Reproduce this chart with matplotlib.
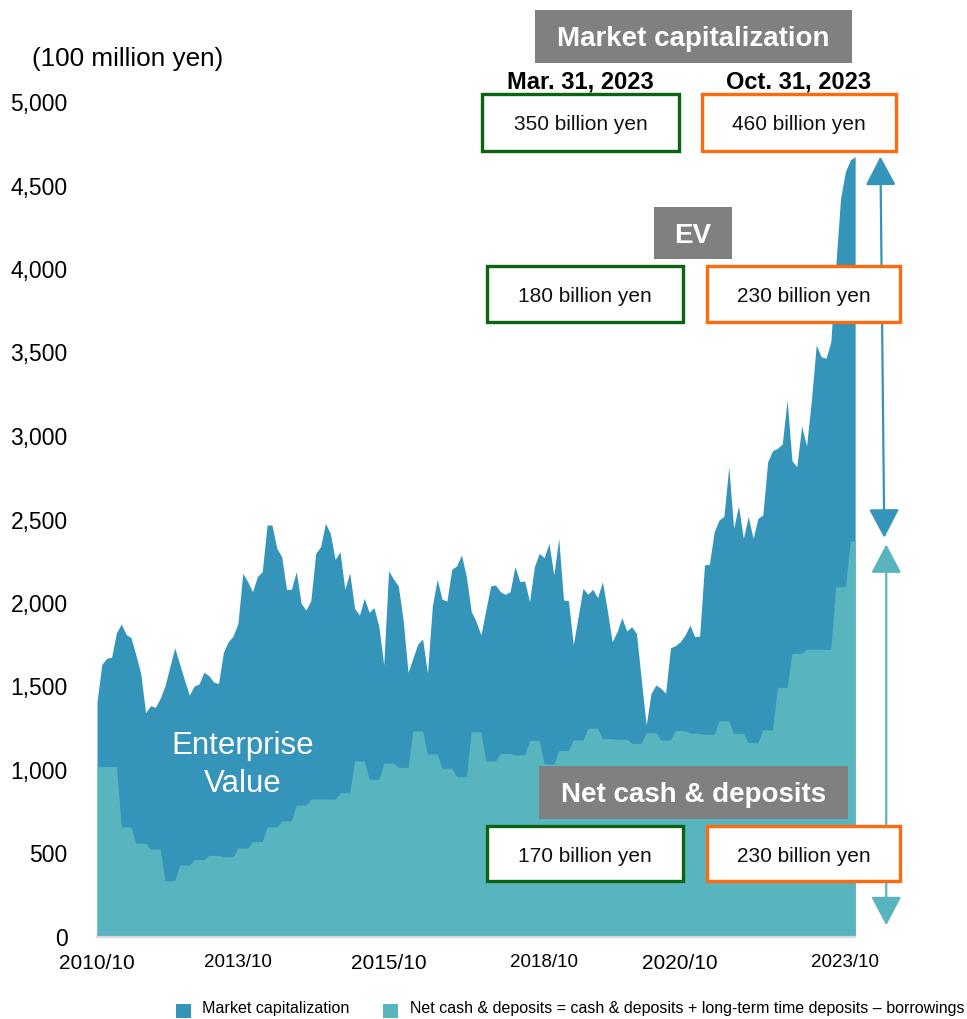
import numpy as np
import matplotlib
matplotlib.use("Agg")
import matplotlib.pyplot as plt
from matplotlib.patches import Rectangle

plt.rcParams['font.family'] = ['Liberation Sans', 'DejaVu Sans']

# Monthly series, 2010/10 - 2023/10 (unit: 100 million yen)
market_cap = [
    1409, 1633, 1669, 1675, 1822, 1874, 1812, 1792, 1689, 1579,
    1343, 1385, 1375, 1429, 1505, 1619, 1732, 1635, 1539, 1449,
    1503, 1515, 1585, 1565, 1527, 1517, 1703, 1768, 1802, 1878,
    2178, 2128, 2068, 2158, 2188, 2467, 2467, 2327, 2277, 2082,
    2082, 2188, 1998, 1958, 2014, 2297, 2337, 2477, 2417, 2261,
    2307, 2082, 2181, 1968, 1928, 2028, 1944, 1972, 1858, 1629,
    2193, 2144, 2102, 1898, 1585, 1669, 1754, 1784, 1579, 1982,
    2142, 2022, 2012, 2202, 2222, 2287, 2158, 1950, 1890, 1808,
    1958, 2102, 2108, 2068, 2052, 2068, 2218, 2128, 2132, 2008,
    2218, 2297, 2271, 2357, 2168, 2387, 2018, 2014, 1749, 1918,
    2088, 2052, 2082, 2032, 2128, 1958, 1768, 1828, 1912, 1832,
    1858, 1818, 1539, 1269, 1459, 1509, 1490, 1460, 1732, 1744,
    1768, 1808, 1868, 1798, 1802, 2228, 2232, 2427, 2497, 2519,
    2816, 2447, 2581, 2387, 2517, 2387, 2507, 2527, 2846, 2912,
    2926, 2952, 3216, 2852, 2816, 3060, 2940, 3216, 3545, 3475,
    3465, 3565, 4014, 4423, 4583, 4653, 4673,
]

net_cash = [
    1020, 1020, 1020, 1020, 1020, 660, 660, 660, 561, 561,
    561, 527, 527, 527, 337, 337, 337, 431, 431, 431,
    463, 463, 463, 489, 489, 489, 481, 481, 481, 533,
    533, 533, 571, 571, 571, 660, 660, 660, 695, 695,
    695, 790, 790, 790, 826, 826, 826, 826, 826, 826,
    864, 864, 864, 1054, 1054, 1054, 944, 944, 944, 1040,
    1040, 1040, 1016, 1016, 1016, 1234, 1234, 1234, 1096, 1096,
    1096, 1010, 1010, 1010, 960, 960, 960, 1229, 1229, 1229,
    1054, 1054, 1054, 1100, 1100, 1100, 1090, 1090, 1090, 1176,
    1176, 1176, 1036, 1036, 1036, 1116, 1116, 1116, 1180, 1180,
    1180, 1250, 1250, 1250, 1188, 1188, 1188, 1184, 1184, 1184,
    1160, 1160, 1160, 1223, 1223, 1223, 1180, 1180, 1180, 1236,
    1236, 1236, 1220, 1220, 1220, 1214, 1214, 1214, 1295, 1295,
    1295, 1220, 1220, 1220, 1164, 1164, 1164, 1240, 1240, 1240,
    1495, 1495, 1495, 1699, 1699, 1699, 1723, 1723, 1723, 1723,
    1723, 1723, 2098, 2098, 2098, 2371, 2371,
]

x_labels = ["2010/10", "2013/10", "2015/10", "2018/10", "2020/10", "2023/10"]
x_label_idx = [0, 29, 60, 92, 120, 154]
x_label_big = [True, False, True, False, True, False]

y_ticks = [0, 500, 1000, 1500, 2000, 2500, 3000, 3500, 4000, 4500, 5000]

legend_labels = [
    "Market capitalization",
    "Net cash & deposits = cash & deposits + long-term time deposits \u2013 borrowings",
]

# Highlight boxes: (row title, Mar. 31 2023 value, Oct. 31 2023 value)
box_titles = ["Market capitalization", "EV", "Net cash & deposits"]
box_mar = ["350 billion yen", "180 billion yen", "170 billion yen"]
box_oct = ["460 billion yen", "230 billion yen", "230 billion yen"]
date_labels = ["Mar. 31, 2023", "Oct. 31, 2023"]

C_MCAP = "#3594BA"
C_CASH = "#58B5BF"
C_GREEN = "#0B6410"
C_ORANGE = "#FF6A0E"
C_GREY = "#808080"

W, H = 967, 1019
fig = plt.figure(figsize=(W / 100, H / 100), dpi=100)


def fx(px):
    return px / W


def fy(py):
    return 1 - py / H


n = len(market_cap)
x = np.arange(n)
ax_left, ax_right, ax_top, ax_bottom = 97, 860, 102, 937
ax = fig.add_axes([fx(ax_left), fy(ax_bottom), fx(ax_right - ax_left), (ax_bottom - ax_top) / H])
ax.set_xlim(0, n)
ax.set_ylim(0, 5000)

ax.fill_between(x, 0, market_cap, color=C_MCAP, lw=0, zorder=2)
ax.fill_between(x, 0, net_cash, color=C_CASH, lw=0, zorder=3)
ax.plot([x[0], x[-1]], [0, 0], color="#D9D9D9", lw=1.6, zorder=4, clip_on=False)

for s in ax.spines.values():
    s.set_visible(False)
ax.set_yticks(y_ticks)
ax.set_yticklabels([f"{v:,}" for v in y_ticks], fontsize=16.5)
ax.tick_params(axis="y", length=0, pad=21)
ax.set_xticks(x_label_idx)
ax.set_xticklabels(x_labels)
for lab, big in zip(ax.get_xticklabels(), x_label_big):
    lab.set_fontsize(15 if big else 13.5)
ax.tick_params(axis="x", length=0, pad=12)

ax.text(30, 1030, "Enterprise\nValue", color="white", fontsize=22.5,
        ha="center", va="center", linespacing=1.32, zorder=5)

# Span arrows at the latest month
x_arrow = n + 4.2
ax.annotate("", xy=(x_arrow, market_cap[-1]), xytext=(x_arrow + 0.8, net_cash[-1] + 20),
            arrowprops=dict(arrowstyle="<|-|>,head_length=1.8,head_width=0.95",
                            mutation_scale=10, color=C_MCAP, lw=1.6,
                            shrinkA=0, shrinkB=0),
            annotation_clip=False)
ax.annotate("", xy=(x_arrow + 1.2, net_cash[-1] - 20), xytext=(x_arrow + 1.2, 70),
            arrowprops=dict(arrowstyle="<|-|>,head_length=1.8,head_width=0.95",
                            mutation_scale=10, color=C_CASH, lw=1.6,
                            shrinkA=0, shrinkB=0),
            annotation_clip=False)

fig.text(fx(128), fy(59), "(100 million yen)", fontsize=18.8, ha="center", va="center")


def rect(x0, y0, x1, y1, face, edge=None, lw=0):
    fig.add_artist(Rectangle((fx(x0), fy(y1)), fx(x1 - x0), (y1 - y0) / H,
                             transform=fig.transFigure, facecolor=face,
                             edgecolor=edge if edge else face, lw=lw, zorder=10))


def title_box(x0, y0, x1, y1, text):
    rect(x0, y0, x1, y1, C_GREY)
    fig.text(fx((x0 + x1) / 2), fy((y0 + y1) / 2 + 3), text, color="white",
             fontsize=20, fontweight="bold", ha="center", va="center", zorder=11)


def value_box(x0, y0, x1, y1, text, edge):
    rect(x0, y0, x1, y1, "white", edge, lw=2.4)
    fig.text(fx((x0 + x1) / 2), fy((y0 + y1) / 2 + 2.5), text, color="#111111",
             fontsize=15, ha="center", va="center", zorder=11)


title_box(535, 10, 852, 63, box_titles[0])
fig.text(fx(580), fy(82), date_labels[0], fontsize=17, fontweight="bold",
         ha="center", va="center")
fig.text(fx(799), fy(82), date_labels[1], fontsize=17, fontweight="bold",
         ha="center", va="center")
value_box(482, 94, 679, 151, box_mar[0], C_GREEN)
value_box(702, 94, 896, 151, box_oct[0], C_ORANGE)

title_box(654, 207, 732, 259, box_titles[1])
value_box(487, 266, 683, 322, box_mar[1], C_GREEN)
value_box(707, 266, 900, 322, box_oct[1], C_ORANGE)

title_box(539, 766, 848, 819, box_titles[2])
value_box(487, 826, 683, 881, box_mar[2], C_GREEN)
value_box(707, 826, 900, 881, box_oct[2], C_ORANGE)

# Legend
rect(176, 1004, 191, 1018, C_MCAP)
fig.text(fx(202), fy(1009), legend_labels[0], fontsize=11.6, ha="left", va="center")
rect(383, 1004, 398, 1018, C_CASH)
fig.text(fx(410), fy(1009), legend_labels[1], fontsize=11.5, ha="left", va="center")

fig.savefig("out.png", dpi=100, facecolor="white")
